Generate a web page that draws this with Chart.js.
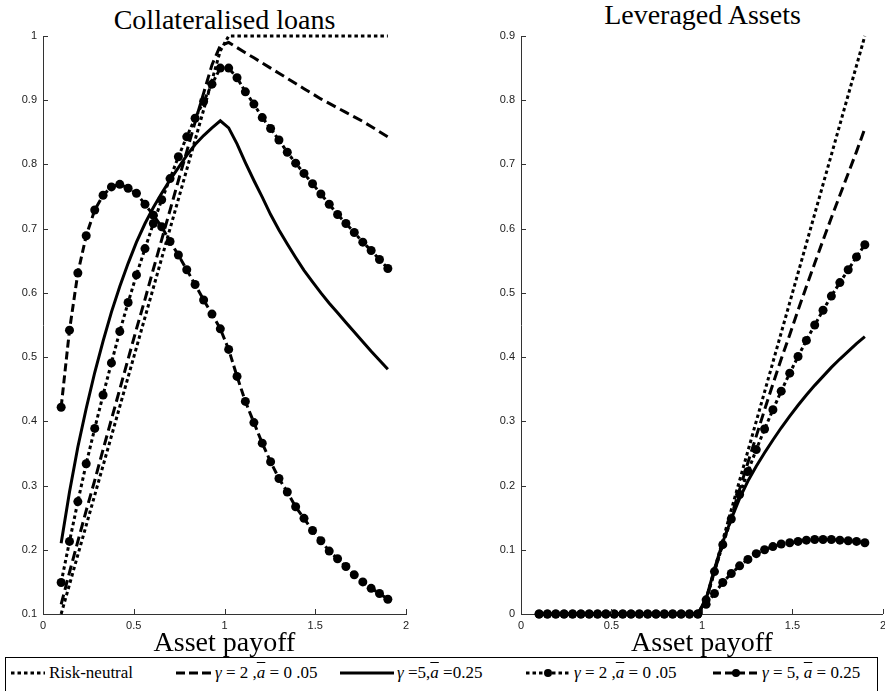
<!DOCTYPE html>
<html>
<head>
<meta charset="utf-8">
<script src="https://cdn.jsdelivr.net/npm/chart.js@4.4.1/dist/chart.umd.min.js"></script>
<style>
  html, body { margin: 0; padding: 0; background: #fff; overflow: hidden; }
  #page { position: relative; width: 885px; height: 691px; overflow: hidden; }
  canvas { position: absolute; top: 0; }
  .ttl { position: absolute; font-family: "Liberation Serif", serif; font-size: 28px; line-height: 28px; text-align: center; color: #000; white-space: nowrap; }
  #legend { position: absolute; left: 5px; top: 657px; width: 871px; height: 44px; border: 1px solid #000; background: #fff;
            font-family: "Liberation Serif", serif; font-size: 17px; color: #000; }
  .item { position: absolute; top: 4px; height: 22px; display: flex; align-items: center; white-space: nowrap; }
  .item svg { margin-right: 3px; }
  .m { font-style: italic; }
  .bar { text-decoration: overline; font-style: italic; }
</style>
</head>
<body>
<div id="page">
  <div class="ttl" style="left:43px; width:363px; top:6px;">Collateralised loans</div>
  <div class="ttl" style="left:521px; width:363px; top:1px;">Leveraged Assets</div>
  <canvas id="loans" width="440" height="660" style="left:0px"></canvas>
  <canvas id="lev" width="421" height="660" style="left:470px"></canvas>
  <div id="legend">
    <div class="item" style="left:4px">
      <svg width="36" height="10"><line x1="1" y1="5" x2="35" y2="5" stroke="#000" stroke-width="3" stroke-dasharray="3.5 3"/></svg>
      <span>Risk-neutral</span>
    </div>
    <div class="item" style="left:170px">
      <svg width="36" height="10"><line x1="0" y1="5" x2="36" y2="5" stroke="#000" stroke-width="3" stroke-dasharray="9 4"/></svg>
      <span><span class="m">γ</span> = 2 ,<span class="bar">a</span> = 0 .05</span>
    </div>
    <div class="item" style="left:334px">
      <svg width="54" height="10"><line x1="0" y1="5" x2="54" y2="5" stroke="#000" stroke-width="3"/></svg>
      <span><span class="m">γ</span> =5,<span class="bar">a</span> =0.25</span>
    </div>
    <div class="item" style="left:519px">
      <svg width="46" height="10"><line x1="1" y1="5" x2="45" y2="5" stroke="#000" stroke-width="3" stroke-dasharray="3.5 3"/><circle cx="23" cy="5" r="4"/></svg>
      <span><span class="m">γ</span> = 2 ,<span class="bar">a</span> = 0 .05</span>
    </div>
    <div class="item" style="left:707px">
      <svg width="46" height="10"><line x1="0" y1="5" x2="46" y2="5" stroke="#000" stroke-width="3" stroke-dasharray="8 4"/><circle cx="23" cy="5" r="4"/></svg>
      <span><span class="m">γ</span> = 5, <span class="bar">a</span> = 0.25</span>
    </div>
  </div>
</div>

<script>
// asset payoff grid (40 points from 0.1 to 1.9)
const payoff = [0.100, 0.146, 0.192, 0.238, 0.285, 0.331, 0.377, 0.423, 0.469, 0.515,
                0.562, 0.608, 0.654, 0.700, 0.746, 0.792, 0.838, 0.885, 0.931, 0.977,
                1.023, 1.069, 1.115, 1.162, 1.208, 1.254, 1.300, 1.346, 1.392, 1.438,
                1.485, 1.531, 1.577, 1.623, 1.669, 1.715, 1.762, 1.808, 1.854, 1.900];

// collateralised loans
const loanNeutral = [0.100, 0.146, 0.192, 0.238, 0.285, 0.331, 0.377, 0.423, 0.469, 0.515,
                     0.562, 0.608, 0.654, 0.700, 0.746, 0.792, 0.838, 0.885, 0.931, 0.977,
                     1, 1, 1, 1, 1, 1, 1, 1, 1, 1, 1, 1, 1, 1, 1, 1, 1, 1, 1, 1];
const loanG2 = [0.115, 0.165, 0.213, 0.261, 0.308, 0.356, 0.403, 0.450, 0.497, 0.544,
                0.590, 0.637, 0.683, 0.729, 0.775, 0.820, 0.866, 0.911, 0.955, 0.985,
                0.990, 0.982, 0.974, 0.966, 0.958, 0.950, 0.942, 0.934, 0.926, 0.918,
                0.910, 0.902, 0.895, 0.888, 0.881, 0.874, 0.867, 0.859, 0.851, 0.843];
const loanG5 = [0.210, 0.290, 0.360, 0.420, 0.476, 0.525, 0.570, 0.610, 0.646, 0.679,
                0.708, 0.733, 0.755, 0.776, 0.795, 0.814, 0.831, 0.845, 0.857, 0.868,
                0.857, 0.832, 0.803, 0.775, 0.749, 0.722, 0.698, 0.676, 0.655, 0.635,
                0.617, 0.600, 0.584, 0.569, 0.554, 0.539, 0.524, 0.509, 0.495, 0.481];
const loanG2m = [0.149, 0.213, 0.275, 0.334, 0.389, 0.441, 0.491, 0.540, 0.585, 0.628,
                 0.669, 0.708, 0.745, 0.778, 0.812, 0.843, 0.872, 0.898, 0.925, 0.950,
                 0.950, 0.935, 0.913, 0.894, 0.873, 0.856, 0.838, 0.819, 0.802, 0.786,
                 0.770, 0.754, 0.738, 0.722, 0.708, 0.694, 0.679, 0.666, 0.652, 0.638];
const loanG5m = [0.422, 0.542, 0.631, 0.689, 0.729, 0.752, 0.765, 0.769, 0.763, 0.755,
                 0.738, 0.721, 0.703, 0.680, 0.659, 0.636, 0.613, 0.589, 0.567, 0.544,
                 0.512, 0.470, 0.431, 0.398, 0.366, 0.337, 0.311, 0.290, 0.267, 0.249,
                 0.230, 0.214, 0.198, 0.186, 0.174, 0.161, 0.150, 0.140, 0.132, 0.123];

// leveraged assets
const levNeutral = [0, 0, 0, 0, 0, 0, 0, 0, 0, 0, 0, 0, 0, 0, 0, 0, 0, 0, 0, 0,
                    0.023, 0.069, 0.115, 0.162, 0.208, 0.254, 0.300, 0.346, 0.392, 0.438,
                    0.485, 0.531, 0.577, 0.623, 0.669, 0.715, 0.762, 0.808, 0.854, 0.900];
const levG2 = [0, 0, 0, 0, 0, 0, 0, 0, 0, 0, 0, 0, 0, 0, 0, 0, 0, 0, 0, 0,
               0.022, 0.066, 0.109, 0.152, 0.194, 0.236, 0.277, 0.318, 0.358, 0.397,
               0.435, 0.473, 0.510, 0.546, 0.582, 0.617, 0.652, 0.686, 0.720, 0.756];
const levG5 = [0, 0, 0, 0, 0, 0, 0, 0, 0, 0, 0, 0, 0, 0, 0, 0, 0, 0, 0, 0,
               0.024, 0.070, 0.112, 0.148, 0.180, 0.207, 0.230, 0.251, 0.271, 0.290,
               0.308, 0.325, 0.341, 0.356, 0.370, 0.384, 0.397, 0.409, 0.421, 0.432];
const levG2m = [0, 0, 0, 0, 0, 0, 0, 0, 0, 0, 0, 0, 0, 0, 0, 0, 0, 0, 0, 0,
                0.022, 0.066, 0.108, 0.148, 0.186, 0.222, 0.256, 0.288, 0.318, 0.347,
                0.375, 0.401, 0.426, 0.450, 0.473, 0.495, 0.516, 0.536, 0.556, 0.575];
const levG5m = [0, 0, 0, 0, 0, 0, 0, 0, 0, 0, 0, 0, 0, 0, 0, 0, 0, 0, 0, 0,
                0.015, 0.032, 0.049, 0.063, 0.075, 0.085, 0.094, 0.100, 0.105, 0.109,
                0.111, 0.113, 0.115, 0.116, 0.116, 0.116, 0.115, 0.114, 0.113, 0.111];

const xTicks = [0, 0.5, 1, 1.5, 2];

// line styles, same order for both panels
const styles = [
    { borderWidth: 3, borderDash: [3.5, 3], pointRadius: 0 },
    { borderWidth: 3, borderDash: [10, 5], pointRadius: 0 },
    { borderWidth: 3, pointRadius: 0 },
    { borderWidth: 3, borderDash: [3.5, 3], pointRadius: 4.5 },
    { borderWidth: 3, borderDash: [8, 4], pointRadius: 4.5 }
];

function makeSets(list) {
    return list.map((vals, i) => Object.assign({
        data: vals.map((v, k) => ({ x: payoff[k], y: v })),
        borderColor: '#000',
        backgroundColor: '#000',
        pointBackgroundColor: '#000',
        pointBorderWidth: 0,
        pointStyle: 'circle',
        borderCapStyle: 'butt',
        tension: 0,
        fill: false,
        clip: false
    }, styles[i]));
}

// matlab-like ticks pointing into the plot
const innerTicks = {
    id: 'innerTicks',
    afterDraw(chart) {
        const { ctx, chartArea, scales } = chart;
        ctx.save();
        ctx.strokeStyle = '#333';
        ctx.lineWidth = 1;
        scales.x.ticks.forEach(t => {
            const px = Math.round(scales.x.getPixelForValue(t.value)) + 0.5;
            ctx.beginPath();
            ctx.moveTo(px, chartArea.bottom);
            ctx.lineTo(px, chartArea.bottom - 5);
            ctx.stroke();
        });
        scales.y.ticks.forEach(t => {
            const py = Math.round(scales.y.getPixelForValue(t.value)) + 0.5;
            ctx.beginPath();
            ctx.moveTo(chartArea.left, py);
            ctx.lineTo(chartArea.left + 5, py);
            ctx.stroke();
        });
        ctx.restore();
    }
};

const tickFont = { family: '"Liberation Sans", Arial, sans-serif', size: 11 };
const fmt = v => String(Math.round(v * 100) / 100);

function makeChart(id, series, yMin, yMax, yWidth, padRight) {
    return new Chart(document.getElementById(id), {
        type: 'line',
        data: { datasets: makeSets(series) },
        plugins: [innerTicks],
        options: {
            responsive: false,
            animation: false,
            layout: { padding: { top: 36, right: padRight, left: 0, bottom: 0 } },
            plugins: { legend: { display: false }, tooltip: { enabled: false } },
            scales: {
                x: {
                    type: 'linear', min: 0, max: 2,
                    afterBuildTicks: s => { s.ticks = xTicks.map(v => ({ value: v })); },
                    afterFit: s => { s.height = 46; },
                    grid: { display: false, drawTicks: false },
                    border: { display: true, color: '#333', width: 1 },
                    ticks: { font: tickFont, color: '#222', padding: 5, maxRotation: 0, callback: fmt },
                    title: { display: true, text: 'Asset payoff', color: '#000',
                             font: { family: '"Liberation Serif", serif', size: 28 },
                             padding: { top: 0, bottom: 0 } }
                },
                y: {
                    type: 'linear', min: yMin, max: yMax,
                    afterFit: s => { s.width = yWidth; },
                    grid: { display: false, drawTicks: false },
                    border: { display: true, color: '#333', width: 1 },
                    ticks: { font: tickFont, color: '#222', padding: 6, stepSize: 0.1, callback: fmt }
                }
            }
        }
    });
}

makeChart('loans', [loanNeutral, loanG2, loanG5, loanG2m, loanG5m], 0.1, 1, 43, 34);
makeChart('lev', [levNeutral, levG2, levG5, levG2m, levG5m], 0, 0.9, 51, 0);
</script>
</body>
</html>
